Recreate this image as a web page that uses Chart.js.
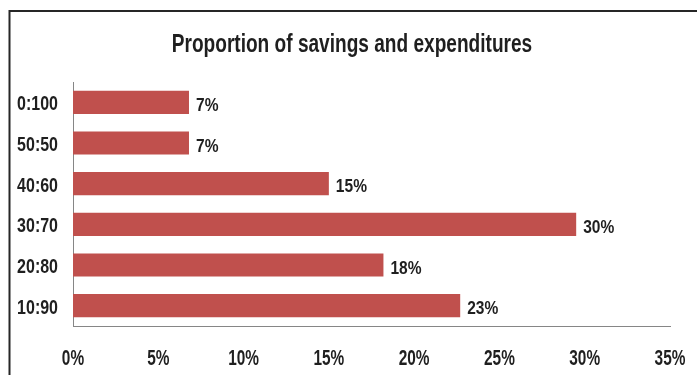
<!DOCTYPE html>
<html>
<head>
<meta charset="utf-8">
<script src="https://cdn.jsdelivr.net/npm/chart.js@4"></script>
<style>
html,body{margin:0;padding:0;background:#fff;}
canvas{display:block;}
</style>
</head>
<body>
<canvas id="c" width="697" height="375"></canvas>
<script>
const categories = ["0:100", "50:50", "40:60", "30:70", "20:80", "10:90"];
const shares = [6.8, 6.8, 15.0, 29.5, 18.2, 22.7];
const xTicks = [0, 5, 10, 15, 20, 25, 30, 35];
const titleText = "Proportion of savings and expenditures";

const FONT = '"Liberation Sans", Arial, sans-serif';
const INK = '#1f1f1f';

// draws real text, horizontally condensed to mimic a narrow bold face
function condensedText(ctx, text, x, y, size, sx, align) {
  ctx.save();
  ctx.font = 'bold ' + size + 'px ' + FONT;
  ctx.fillStyle = INK;
  ctx.textBaseline = 'alphabetic';
  ctx.textAlign = align;
  ctx.translate(x, y);
  ctx.scale(sx, 1);
  ctx.fillText(text, 0, 0);
  ctx.restore();
}

const framePlugin = {
  id: 'frame',
  beforeDraw(chart) {
    const ctx = chart.ctx;
    ctx.save();
    ctx.strokeStyle = '#262626';
    ctx.lineWidth = 2;
    ctx.beginPath();
    ctx.moveTo(9, 11); ctx.lineTo(697, 11);
    ctx.moveTo(9.5, 10); ctx.lineTo(9.5, 375);
    ctx.stroke();
    ctx.restore();
  }
};

const textPlugin = {
  id: 'texts',
  afterDraw(chart) {
    const ctx = chart.ctx;
    // title
    condensedText(ctx, titleText, 352, 52, 26.5, 0.72, 'center');
    // category labels
    const ys = chart.scales.y;
    categories.forEach((c, i) => {
      const y = ys.getPixelForTick(i);
      condensedText(ctx, c, ys.right - 15, y + 8, 19.5, 0.82, 'right');
    });
    // x tick labels
    const xs = chart.scales.x;
    xTicks.forEach(v => {
      condensedText(ctx, v + '%', xs.getPixelForValue(v), 365, 22, 0.70, 'center');
    });
    // bar value labels
    const meta = chart.getDatasetMeta(0);
    meta.data.forEach((bar, i) => {
      condensedText(ctx, Math.round(shares[i]) + '%', bar.x + 7, bar.y + 8.5, 18.5, 0.84, 'left');
    });
  }
};

new Chart(document.getElementById('c'), {
  type: 'bar',
  data: {
    labels: categories,
    datasets: [{
      data: shares,
      backgroundColor: '#C0504D',
      borderWidth: 0,
      categoryPercentage: 1,
      barPercentage: 0.57
    }]
  },
  plugins: [framePlugin, textPlugin],
  options: {
    indexAxis: 'y',
    responsive: false,
    devicePixelRatio: 1,
    animation: false,
    layout: { padding: { left: 0, right: 27, top: 82, bottom: 0 } },
    plugins: {
      legend: { display: false },
      tooltip: { enabled: false },
      title: { display: false }
    },
    scales: {
      x: {
        min: 0, max: 35,
        afterBuildTicks(scale) { scale.ticks = xTicks.map(v => ({ value: v })); },
        afterFit(scale) { scale.height = 49; },
        grid: { display: false, drawTicks: false },
        border: { display: true, color: '#868686', width: 1 },
        ticks: { display: false }
      },
      y: {
        afterFit(scale) { scale.width = 73; },
        grid: { display: false, drawTicks: false },
        border: { display: true, color: '#868686', width: 1 },
        ticks: { display: false }
      }
    }
  }
});
</script>
</body>
</html>
